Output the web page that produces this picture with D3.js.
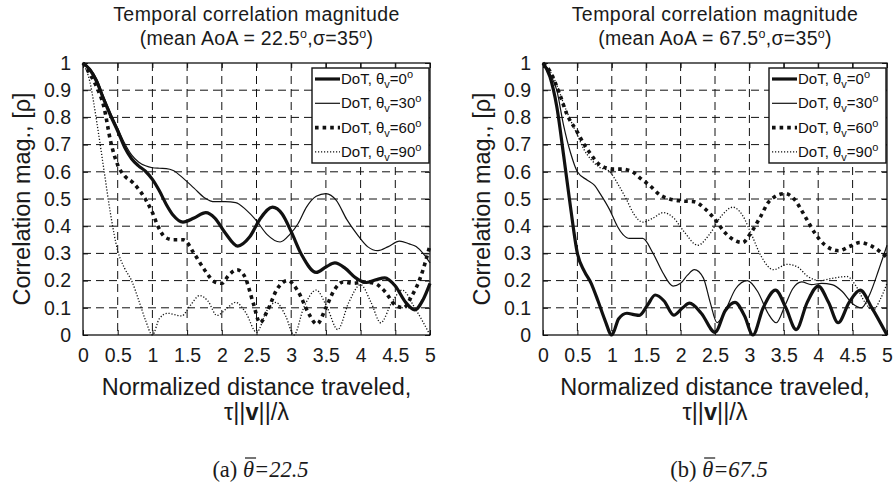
<!DOCTYPE html>
<html><head><meta charset="utf-8">
<script src="https://cdn.jsdelivr.net/npm/d3@7"></script>
<style>body{margin:0;background:#fff} svg{display:block}</style>
</head><body><svg id="c" width="896" height="484"></svg>
<script>
// ---------- data ----------
const xTickValues = [0,0.5,1,1.5,2,2.5,3,3.5,4,4.5,5];
const yTickValues = [0,0.1,0.2,0.3,0.4,0.5,0.6,0.7,0.8,0.9,1];
const meanAoA = ["22.5","67.5"];
const sigma = "35";
const captionTags = ["(a) ","(b) "];
const thetaV = ["0","30","60","90"];

// mean AoA 22.5
const a22_v0 = [[0,1],[0.1,0.975],[0.2,0.93],[0.3,0.865],[0.4,0.805],[0.5,0.75],[0.6,0.69],[0.7,0.648],[0.8,0.622],[0.9,0.602],[1.0,0.572],[1.1,0.53],[1.2,0.48],[1.3,0.44],[1.44,0.415],[1.6,0.43],[1.77,0.45],[1.9,0.43],[2.05,0.375],[2.23,0.327],[2.4,0.36],[2.56,0.43],[2.73,0.47],[2.87,0.445],[3.0,0.38],[3.15,0.295],[3.36,0.23],[3.5,0.25],[3.63,0.265],[3.78,0.245],[3.93,0.21],[4.08,0.193],[4.22,0.203],[4.35,0.21],[4.5,0.18],[4.65,0.12],[4.78,0.092],[4.9,0.13],[5,0.19]];
const a22_v30 = [[0,1],[0.1,0.98],[0.2,0.94],[0.3,0.875],[0.4,0.815],[0.5,0.76],[0.6,0.705],[0.7,0.662],[0.8,0.636],[0.9,0.622],[1.0,0.615],[1.1,0.613],[1.2,0.612],[1.3,0.605],[1.45,0.575],[1.6,0.54],[1.75,0.505],[1.9,0.49],[2.05,0.49],[2.2,0.487],[2.35,0.46],[2.5,0.42],[2.65,0.37],[2.84,0.342],[2.98,0.37],[3.1,0.41],[3.22,0.47],[3.36,0.51],[3.5,0.52],[3.65,0.495],[3.8,0.425],[3.95,0.37],[4.1,0.325],[4.25,0.31],[4.4,0.325],[4.56,0.345],[4.7,0.335],[4.8,0.325],[4.9,0.3],[5,0.265]];
const a22_v60 = [[0,1],[0.1,0.96],[0.2,0.91],[0.3,0.84],[0.4,0.71],[0.5,0.625],[0.6,0.585],[0.72,0.56],[0.82,0.53],[0.92,0.49],[1.0,0.45],[1.08,0.4],[1.18,0.36],[1.3,0.35],[1.45,0.35],[1.6,0.3],[1.75,0.24],[1.9,0.195],[2.0,0.19],[2.1,0.22],[2.22,0.24],[2.33,0.215],[2.45,0.12],[2.55,0.045],[2.65,0.085],[2.8,0.17],[2.95,0.2],[3.1,0.16],[3.25,0.08],[3.37,0.04],[3.5,0.1],[3.62,0.165],[3.75,0.195],[3.9,0.19],[4.05,0.195],[4.2,0.19],[4.35,0.16],[4.5,0.11],[4.62,0.1],[4.73,0.14],[4.86,0.21],[5,0.33]];
const a22_v90 = [[0,1],[0.1,0.93],[0.2,0.78],[0.3,0.61],[0.4,0.44],[0.5,0.31],[0.6,0.245],[0.7,0.2],[0.8,0.13],[0.9,0.055],[1.0,0],[1.1,0.06],[1.22,0.08],[1.32,0.075],[1.42,0.07],[1.55,0.11],[1.68,0.145],[1.8,0.125],[1.93,0.072],[2.08,0.1],[2.2,0.12],[2.35,0.08],[2.5,0.01],[2.65,0.09],[2.78,0.12],[2.92,0.07],[3.04,0],[3.18,0.1],[3.36,0.165],[3.52,0.1],[3.67,0.02],[3.83,0.12],[4.0,0.185],[4.15,0.12],[4.29,0.045],[4.45,0.12],[4.6,0.165],[4.78,0.1],[5,0]];

// mean AoA 67.5
const a67_v0 = [[0,1],[0.1,0.95],[0.2,0.84],[0.3,0.66],[0.4,0.47],[0.5,0.3],[0.6,0.235],[0.7,0.19],[0.8,0.125],[0.9,0.055],[1.0,0],[1.1,0.06],[1.22,0.08],[1.32,0.075],[1.4,0.072],[1.52,0.11],[1.63,0.147],[1.76,0.125],[1.9,0.073],[2.03,0.1],[2.13,0.117],[2.3,0.08],[2.5,0.01],[2.65,0.09],[2.79,0.12],[2.93,0.07],[3.05,0],[3.2,0.1],[3.38,0.165],[3.53,0.1],[3.68,0.02],[3.84,0.12],[4.0,0.18],[4.15,0.12],[4.29,0.045],[4.45,0.12],[4.61,0.165],[4.78,0.1],[5,0]];
const a67_v30 = [[0,1],[0.1,0.96],[0.2,0.9],[0.3,0.77],[0.4,0.67],[0.5,0.6],[0.64,0.57],[0.75,0.55],[0.83,0.52],[0.97,0.46],[1.08,0.4],[1.16,0.37],[1.26,0.355],[1.45,0.355],[1.6,0.3],[1.74,0.23],[1.89,0.18],[2.0,0.19],[2.1,0.22],[2.2,0.24],[2.33,0.21],[2.43,0.12],[2.53,0.045],[2.65,0.09],[2.8,0.17],[2.97,0.2],[3.12,0.16],[3.27,0.08],[3.39,0.045],[3.52,0.11],[3.63,0.17],[3.76,0.195],[3.9,0.185],[4.05,0.19],[4.2,0.185],[4.35,0.16],[4.5,0.115],[4.63,0.1],[4.75,0.15],[4.88,0.24],[5,0.33]];
const a67_v60 = [[0,1],[0.1,0.97],[0.25,0.88],[0.35,0.81],[0.49,0.75],[0.6,0.7],[0.68,0.67],[0.83,0.625],[1.02,0.61],[1.15,0.61],[1.3,0.6],[1.42,0.575],[1.55,0.55],[1.7,0.515],[1.84,0.5],[2.0,0.493],[2.2,0.49],[2.35,0.465],[2.5,0.425],[2.65,0.375],[2.9,0.34],[3.02,0.375],[3.15,0.43],[3.3,0.495],[3.52,0.52],[3.65,0.5],[3.8,0.44],[3.95,0.375],[4.1,0.33],[4.3,0.31],[4.45,0.325],[4.61,0.34],[4.75,0.33],[4.88,0.31],[5,0.285]];
const a67_v90 = [[0,1],[0.1,0.97],[0.2,0.92],[0.3,0.85],[0.4,0.79],[0.5,0.735],[0.6,0.68],[0.7,0.645],[0.8,0.62],[0.97,0.6],[1.1,0.55],[1.21,0.5],[1.32,0.445],[1.45,0.415],[1.6,0.43],[1.75,0.45],[1.9,0.43],[2.05,0.38],[2.25,0.33],[2.42,0.37],[2.6,0.44],[2.76,0.47],[2.9,0.44],[3.03,0.37],[3.17,0.29],[3.35,0.24],[3.55,0.26],[3.7,0.25],[3.85,0.215],[4.03,0.2],[4.2,0.208],[4.42,0.215],[4.55,0.18],[4.68,0.12],[4.8,0.092],[4.9,0.13],[5,0.19]];

const panels = [
  {series:[a22_v0,a22_v30,a22_v60,a22_v90], aoa:meanAoA[0], tag:captionTags[0], x0:83, x1:430},
  {series:[a67_v0,a67_v30,a67_v60,a67_v90], aoa:meanAoA[1], tag:captionTags[1], x0:543, x1:887}
];
const styles = [
  {w:3.2, dash:null},
  {w:1.2, dash:null},
  {w:3.6, dash:"3.6,4"},
  {w:1.3, dash:"1.2,1.8"}
];

// ---------- drawing ----------
const svg = d3.select("#c");
const sans = "'Liberation Sans', Arial, Helvetica, sans-serif";
const serif = "'Liberation Serif', 'Times New Roman', serif";
const yTop = 63, yBot = 335;
const fmt = v => (v===0?"0":(Number.isInteger(v)?String(v):String(+v.toFixed(1))));

panels.forEach(p => {
  const x = d3.scaleLinear().domain([0,5]).range([p.x0,p.x1]);
  const y = d3.scaleLinear().domain([0,1]).range([yBot,yTop]);
  const g = svg.append("g");
  const cx = (p.x0+p.x1)/2;

  // grid
  g.append("g").selectAll("line").data(xTickValues.slice(1,-1)).join("line")
    .attr("x1",d=>x(d)).attr("x2",d=>x(d)).attr("y1",yTop).attr("y2",yBot)
    .attr("stroke","#111").attr("stroke-width",1).attr("stroke-dasharray","8,5");
  g.append("g").selectAll("line").data(yTickValues.slice(1,-1)).join("line")
    .attr("y1",d=>y(d)).attr("y2",d=>y(d)).attr("x1",p.x0).attr("x2",p.x1)
    .attr("stroke","#111").attr("stroke-width",1).attr("stroke-dasharray","8,5");

  // axes via d3 axis (ticks inward)
  const axB = d3.axisBottom(x).tickValues(xTickValues).tickFormat(fmt).tickSizeInner(-5).tickSizeOuter(0).tickPadding(13);
  const axL = d3.axisLeft(y).tickValues(yTickValues).tickFormat(fmt).tickSizeInner(-5).tickSizeOuter(0).tickPadding(12);
  const axT = d3.axisTop(x).tickValues(xTickValues).tickFormat("").tickSizeInner(-5).tickSizeOuter(0);
  const axR = d3.axisRight(y).tickValues(yTickValues).tickFormat("").tickSizeInner(-5).tickSizeOuter(0);
  [[axB,`translate(0,${yBot})`],[axL,`translate(${p.x0},0)`],[axT,`translate(0,${yTop})`],[axR,`translate(${p.x1},0)`]].forEach(([ax,tr])=>{
    const a = g.append("g").attr("transform",tr).call(ax);
    a.select(".domain").remove();
    a.selectAll("line").attr("stroke","#111");
    a.selectAll("text").attr("font-family",sans).attr("font-size",19.5).attr("fill","#1a1a1a");
  });

  // curves
  const line = d3.line().x(d=>x(d[0])).y(d=>y(d[1])).curve(d3.curveMonotoneX);
  p.series.forEach((s,i)=>{
    g.append("path").datum(s).attr("d",line).attr("fill","none")
      .attr("stroke","#111").attr("stroke-width",styles[i].w)
      .attr("stroke-dasharray",styles[i].dash).attr("stroke-linejoin","round");
  });

  // frame
  g.append("rect").attr("x",p.x0).attr("y",yTop).attr("width",p.x1-p.x0).attr("height",yBot-yTop)
    .attr("fill","none").attr("stroke","#111").attr("stroke-width",1.3);

  // legend
  const lx0 = p.x1-118, ly0 = 68, lw = 117, lh = 95;
  const lg = g.append("g");
  lg.append("rect").attr("x",lx0).attr("y",ly0).attr("width",lw).attr("height",lh)
    .attr("fill","#fff").attr("stroke","#111").attr("stroke-width",1.4);
  thetaV.forEach((t,i)=>{
    const yy = ly0+11+i*24.3;
    lg.append("line").attr("x1",lx0+3).attr("x2",lx0+28).attr("y1",yy).attr("y2",yy)
      .attr("stroke","#111").attr("stroke-width",styles[i].w).attr("stroke-dasharray",styles[i].dash);
    const tx = lg.append("text").attr("x",lx0+29).attr("y",yy+5)
      .attr("font-family",sans).attr("font-size",15).attr("fill","#111");
    tx.append("tspan").text("DoT, θ");
    tx.append("tspan").attr("font-size",11).attr("dy",4).text("v");
    tx.append("tspan").attr("dy",-4).text("="+t);
    tx.append("tspan").attr("font-size",11).attr("dy",-6).text("o");
  });

  // title
  svg.append("text").attr("x",cx).attr("y",21).attr("text-anchor","middle")
    .attr("font-family",sans).attr("font-size",19.5).attr("letter-spacing",0.45).attr("fill","#1a1a1a").text("Temporal correlation magnitude");
  const t2 = svg.append("text").attr("x",cx).attr("y",45).attr("text-anchor","middle")
    .attr("font-family",sans).attr("font-size",19.5).attr("letter-spacing",0.3).attr("fill","#1a1a1a");
  t2.append("tspan").text("(mean AoA = "+p.aoa);
  t2.append("tspan").attr("font-size",12.5).attr("dy",-7).text("o");
  t2.append("tspan").attr("dy",7).text(",σ="+sigma);
  t2.append("tspan").attr("font-size",12.5).attr("dy",-7).text("o");
  t2.append("tspan").attr("dy",7).text(")");

  // y label
  svg.append("text").attr("transform",`translate(${p.x0-53},${(yTop+yBot)/2}) rotate(-90)`)
    .attr("text-anchor","middle").attr("font-family",sans).attr("font-size",23.5).attr("fill","#1a1a1a")
    .text("Correlation mag., [ρ]");

  // x label
  svg.append("text").attr("x",cx).attr("y",395).attr("text-anchor","middle")
    .attr("font-family",sans).attr("font-size",23.5).attr("fill","#1a1a1a").text("Normalized distance traveled,");
  const xl2 = svg.append("text").attr("x",cx).attr("y",420).attr("text-anchor","middle")
    .attr("font-family",sans).attr("font-size",23.5).attr("fill","#1a1a1a");
  xl2.append("tspan").text("τ||");
  xl2.append("tspan").attr("font-weight","bold").text("v");
  xl2.append("tspan").text("||/λ");

  // caption
  const cap = svg.append("text").attr("x",cx+4).attr("y",477).attr("text-anchor","middle")
    .attr("font-family",serif).attr("font-size",22.5).attr("fill","#1a1a1a");
  cap.append("tspan").text(p.tag);
  cap.append("tspan").attr("font-style","italic").text("θ");
  cap.append("tspan").attr("font-style","italic").text("=" + p.aoa);
  const n = p.tag.length;
  const s0 = cap.node().getStartPositionOfChar(n), e0 = cap.node().getEndPositionOfChar(n);
  svg.append("line").attr("x1",s0.x+2).attr("x2",e0.x+2).attr("y1",477-19).attr("y2",477-19)
    .attr("stroke","#1a1a1a").attr("stroke-width",1.2);
});
</script></body></html>
